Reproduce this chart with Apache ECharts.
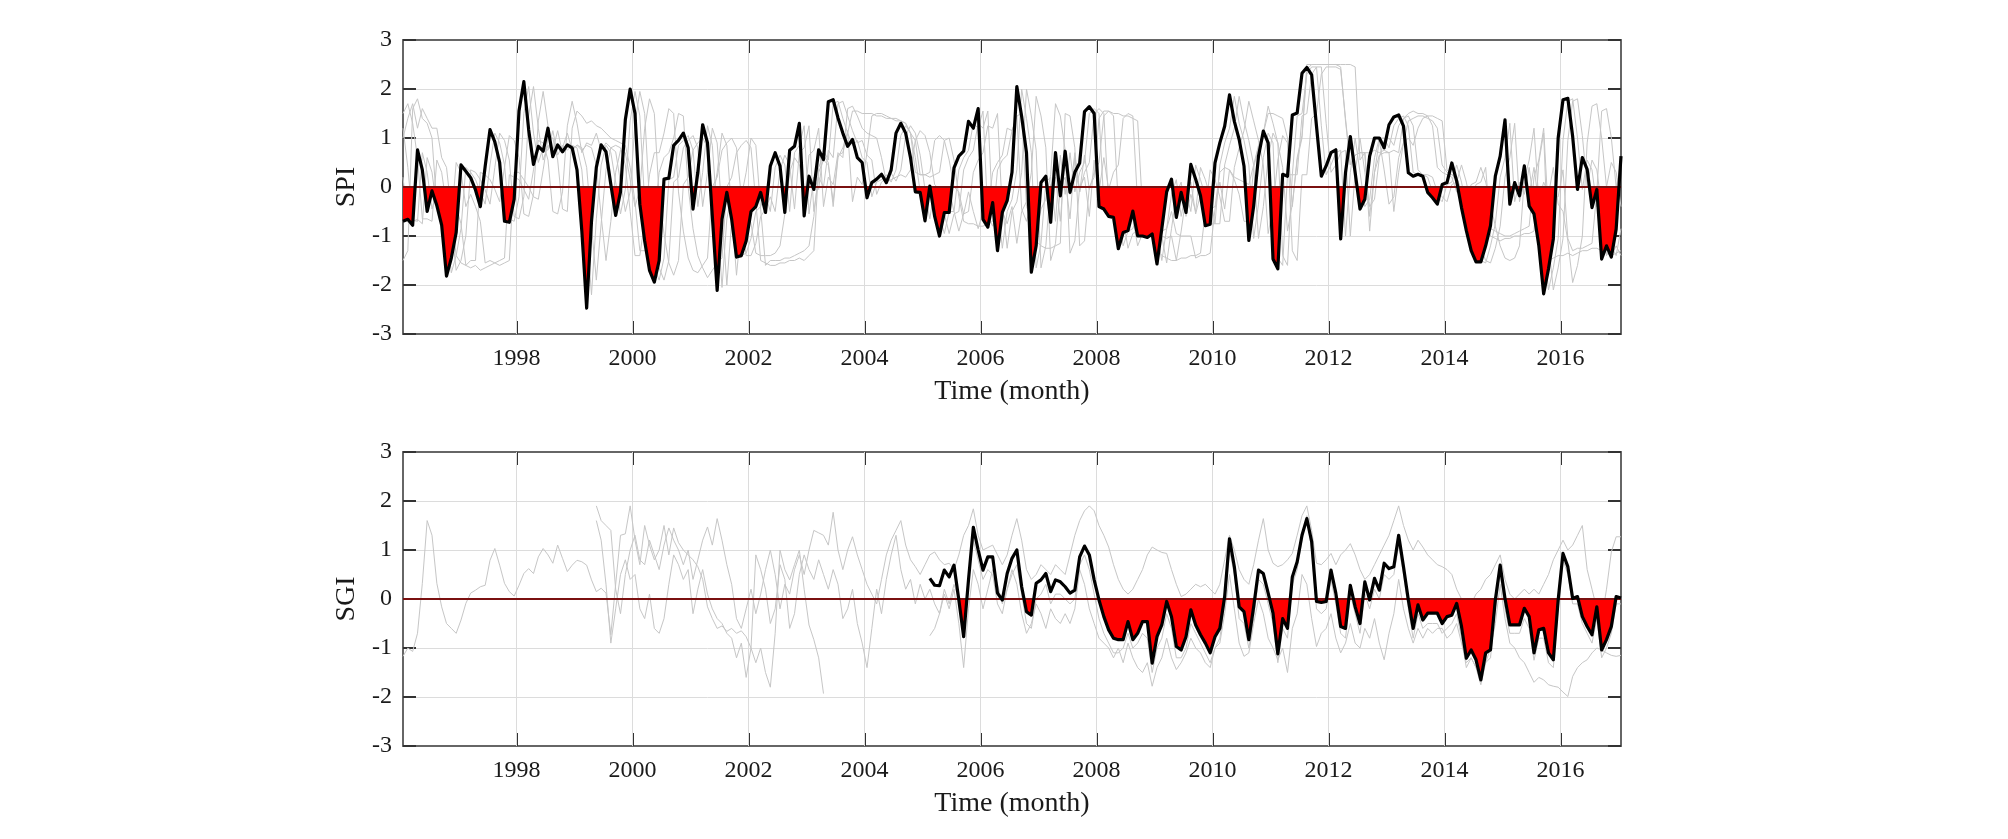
<!DOCTYPE html>
<html>
<head>
<meta charset="utf-8">
<script src="https://cdn.jsdelivr.net/npm/echarts@6/dist/echarts.min.js"></script>
<style>html,body{margin:0;padding:0;background:#fff}#c{width:2008px;height:839px}</style>
</head>
<body>
<div id="c"></div>
<script>
// ---------- data (monthly, first month = Jan 1996) ----------
const startYear = 1996;
const yearTicks = [1998, 2000, 2002, 2004, 2006, 2008, 2010, 2012, 2014, 2016];
const yTickLabels = ['-3', '-2', '-1', '0', '1', '2', '3'];

// SPI (black), Jan 1996 .. Jan 2017
const spiStart = 0;
const spi = [
-0.70,-0.66,-0.78,0.76,0.35,-0.50,-0.08,-0.38,-0.78,-1.82,-1.45,-0.93,
0.45,0.32,0.19,-0.06,-0.40,0.42,1.17,0.92,0.50,-0.70,-0.72,-0.25,
1.55,2.15,1.17,0.46,0.83,0.73,1.20,0.62,0.86,0.72,0.86,0.80,
0.35,-0.90,-2.47,-0.70,0.40,0.86,0.72,0.05,-0.58,-0.10,1.37,2.00,
1.50,-0.35,-1.10,-1.70,-1.94,-1.50,0.16,0.18,0.85,0.95,1.10,0.80,
-0.45,0.30,1.27,0.90,-0.60,-2.11,-0.66,-0.11,-0.66,-1.43,-1.40,-1.10,
-0.50,-0.40,-0.11,-0.52,0.43,0.70,0.43,-0.52,0.75,0.83,1.30,-0.59,
0.22,-0.05,0.76,0.56,1.74,1.78,1.41,1.10,0.83,0.97,0.60,0.50,
-0.22,0.09,0.16,0.26,0.09,0.35,1.10,1.30,1.10,0.60,-0.10,-0.11,
-0.69,0.02,-0.60,-1.00,-0.52,-0.52,0.39,0.63,0.73,1.34,1.20,1.60,
-0.66,-0.82,-0.32,-1.30,-0.52,-0.28,0.30,2.05,1.44,0.70,-1.74,-1.20,
0.09,0.22,-0.72,0.70,-0.18,0.73,-0.11,0.30,0.49,1.54,1.64,1.50,
-0.40,-0.45,-0.60,-0.62,-1.26,-0.93,-0.89,-0.49,-1.00,-1.00,-1.03,-0.96,
-1.57,-0.85,-0.10,0.16,-0.62,-0.11,-0.52,0.46,0.16,-0.18,-0.79,-0.76,
0.49,0.90,1.24,1.88,1.34,0.97,0.43,-1.09,-0.39,0.63,1.14,0.90,
-1.47,-1.67,0.26,0.22,1.47,1.51,2.32,2.44,2.29,1.24,0.22,0.43,
0.70,0.76,-1.06,0.29,1.03,0.29,-0.45,-0.25,0.63,1.00,1.00,0.80,
1.27,1.43,1.47,1.24,0.29,0.22,0.26,0.22,-0.11,-0.22,-0.35,0.05,
0.09,0.49,0.12,-0.42,-0.89,-1.30,-1.53,-1.53,-1.20,-0.79,0.22,0.63,
1.37,-0.35,0.09,-0.18,0.43,-0.39,-0.55,-1.20,-2.18,-1.67,-1.06,1.00,
1.78,1.81,1.03,-0.05,0.60,0.36,-0.42,-0.05,-1.47,-1.20,-1.43,-0.86,
0.63];

// SPI grey lines (other SPI series), Jan 1996 .. Jan 2017
const spiGray1 = [
1.20,0.40,-0.70,-0.66,-0.75,0.60,0.30,-0.45,-0.10,-0.38,-0.78,-1.70,
-1.50,-1.00,0.35,0.30,0.15,-0.06,-0.35,0.40,1.10,0.95,0.55,-0.60,
-0.65,-0.20,1.45,2.05,1.20,0.55,0.85,0.75,1.15,0.70,0.86,0.75,
0.86,0.80,0.40,-0.80,-1.90,-0.75,0.35,0.80,0.72,0.10,-0.50,-0.10,
1.30,1.95,1.50,-0.30,-1.05,-1.65,-1.90,-1.50,0.10,0.20,0.80,0.95,
1.05,0.80,-0.40,0.30,1.20,0.90,-0.55,-2.00,-0.70,-0.20,-0.70,-1.40,
-1.40,-1.15,-0.60,-0.45,-0.20,-0.50,0.35,0.65,0.45,-0.45,0.70,0.80,
1.25,-0.50,0.20,0.00,0.75,0.60,1.70,1.75,1.45,1.15,0.90,0.95,
0.65,0.55,-0.15,0.10,0.18,0.28,0.12,0.35,1.05,1.25,1.10,0.65,
-0.05,-0.10,-0.65,0.00,-0.55,-0.95,-0.55,-0.50,0.35,0.60,0.75,1.30,
1.20,1.55,-0.60,-0.80,-0.35,-1.25,-0.50,-0.30,0.30,2.00,1.45,0.75,
-1.65,-1.20,0.05,0.20,-0.70,0.65,-0.15,0.70,-0.10,0.30,0.50,1.50,
1.60,1.50,-0.35,-0.45,-0.60,-0.65,-1.25,-0.95,-0.90,-0.55,-1.00,-1.00,
-1.05,-1.00,-1.55,-0.85,-0.15,0.10,-0.60,-0.15,-0.50,0.40,0.15,-0.20,
-0.75,-0.75,0.45,0.85,1.20,1.85,1.35,0.95,0.45,-1.05,-0.40,0.60,
1.10,0.90,-1.40,-1.60,0.25,0.25,1.45,1.50,2.30,2.45,2.45,1.30,
0.30,0.45,0.70,0.75,-1.00,0.30,1.00,0.30,-0.40,-0.25,0.60,0.95,
1.00,0.85,1.25,1.40,1.45,1.25,0.35,0.25,0.25,0.20,-0.10,-0.20,
-0.30,0.05,0.10,0.45,0.10,-0.40,-0.85,-1.25,-1.50,-1.55,-1.25,-0.80,
0.20,0.60,1.30,-0.30,0.10,-0.15,0.40,-0.35,-0.55,-1.15,-2.10,-1.65,
-1.05,0.95,1.75,1.80,1.05,0.00,0.55,0.35,-0.40,-0.10,-1.40,-1.20,
-1.40];
const spiGray2 = [
1.50,1.70,1.30,0.60,-0.65,-0.65,-0.70,0.55,0.30,-0.40,-0.15,-0.40,
-0.75,-1.60,-1.50,-1.50,0.30,0.25,0.15,-0.05,-0.30,0.40,1.05,0.95,
0.60,-0.55,-0.60,-0.15,1.35,1.95,1.25,0.65,0.85,0.80,1.10,0.75,
0.85,0.75,0.85,0.80,0.45,-0.60,-1.50,-0.70,0.30,0.75,0.70,0.15,
-0.40,-0.05,1.20,1.80,1.50,-0.20,-0.95,-1.55,-1.80,-1.50,0.05,0.20,
0.75,0.90,1.00,0.80,-0.30,0.30,1.10,0.85,-0.50,-1.80,-0.75,-0.30,
-0.75,-1.35,-1.40,-1.40,-1.40,-1.35,-1.20,-0.55,0.30,0.60,0.45,-0.35,
0.65,0.75,1.20,-0.40,0.20,0.05,0.70,0.60,1.60,1.65,1.45,1.20,
1.10,1.05,1.00,0.60,0.10,0.15,0.20,0.25,0.20,0.35,0.95,1.15,
1.05,0.70,0.05,-0.05,-0.60,-0.05,-0.50,-0.90,-0.55,-0.50,0.30,0.55,
0.70,1.25,1.20,1.50,-0.50,-0.75,-0.40,-1.15,-0.50,-0.30,0.30,1.85,
1.45,0.80,-1.50,-1.15,0.00,0.20,-0.65,0.60,-0.10,0.65,-0.05,0.30,
0.50,1.45,1.55,1.45,-0.35,-0.50,-0.60,-0.65,-1.20,-0.95,-0.90,-0.60,
-1.00,-1.00,-1.05,-1.00,-1.50,-0.90,-0.20,0.10,-0.55,-0.15,-0.50,0.35,
0.15,-0.20,-0.70,-0.70,0.40,0.80,1.15,1.75,1.35,0.95,0.45,-0.95,
-0.40,0.55,1.05,0.90,-1.30,-1.50,0.25,0.25,1.40,1.50,2.30,2.45,
2.45,2.45,2.40,1.40,0.45,0.65,0.70,0.70,-0.90,0.30,0.95,0.35,
-0.35,-0.20,0.60,0.90,1.00,0.85,1.20,1.40,1.45,1.25,0.40,0.30,
0.25,0.20,-0.10,-0.20,-0.30,0.05,0.10,0.40,0.10,-0.35,-0.80,-1.20,
-1.45,-1.50,-1.45,-1.20,0.15,0.55,1.20,-0.30,0.10,-0.15,0.40,-0.35,
-0.50,-1.10,-1.95,-1.60,-1.00,0.90,1.65,1.70,1.00,0.00,0.50,0.30,
-0.40];
const spiGray3 = [
-1.50,-1.30,1.60,1.80,1.40,1.30,1.00,-0.40,-0.60,-0.65,-0.70,0.50,
0.30,-0.40,-0.15,-0.40,-0.70,-1.55,-1.50,-1.55,-1.50,-1.45,0.25,0.20,
0.15,-0.05,-0.25,0.35,0.95,0.90,0.55,-0.50,-0.55,-0.10,1.25,1.75,
1.30,0.70,0.90,0.85,1.10,0.75,0.90,0.80,0.85,0.80,0.45,-0.50,
-1.40,-1.40,-0.70,0.25,0.70,0.70,1.10,1.60,1.50,-0.10,-0.90,-1.45,
-1.70,-1.75,-1.60,-1.45,0.00,0.20,0.75,0.90,1.00,0.80,-0.20,0.30,
1.00,0.85,-0.45,-1.60,-1.50,-1.50,-1.50,-1.45,-1.45,-1.40,-1.35,-1.30,
-1.20,-0.60,0.30,0.55,0.45,-0.30,0.65,0.70,1.15,-0.30,0.20,0.05,
0.70,1.45,1.50,1.50,1.45,1.40,1.40,1.35,1.30,1.10,0.30,0.25,
0.25,0.30,0.95,1.05,0.95,0.55,0.00,-0.10,-0.55,-0.10,-0.50,-0.85,
-0.50,-0.45,0.30,0.50,0.65,1.20,1.15,1.45,-0.45,-0.70,-0.35,-1.05,
-0.45,-0.25,0.25,1.70,1.45,0.75,-1.35,-1.10,0.00,0.20,-0.60,0.55,
-0.10,0.60,-0.05,0.30,0.45,1.40,1.50,1.45,-0.35,-0.45,-0.55,-0.60,
-1.15,-0.90,-0.85,-0.50,-0.95,-1.00,-1.00,-1.00,-1.45,-1.40,-1.40,-1.35,
-0.45,0.10,-0.45,0.35,0.15,-0.15,-0.70,-0.70,0.40,0.80,1.10,1.65,
1.30,0.90,0.40,-0.90,-0.35,0.55,1.00,2.40,2.50,2.50,2.50,2.50,
2.50,2.50,2.45,1.35,0.45,0.65,0.70,0.70,-0.60,0.30,0.65,0.70,
0.70,-0.50,0.30,0.90,1.35,1.40,1.45,1.45,1.40,1.35,1.20,0.45,
0.30,0.25,0.20,-0.10,-0.20,-0.30,0.05,0.10,0.40,-0.85,-0.90,-0.95,
-1.00,-1.00,-0.95,-0.90,-0.85,-0.80,0.20,0.55,1.20,-0.60,-0.20,-0.20,
0.35,-1.05,-1.30,-1.25,-1.25,-1.20,-1.15,-0.10,1.55,1.60,1.00,0.00,
0.50];
const spiGray4 = [
1.00,1.40,1.70,1.20,1.60,1.40,1.20,1.20,0.60,0.40,-0.50,-1.40,
-1.55,-1.60,-1.65,-1.60,-1.70,-1.65,-1.60,-1.55,-1.60,-1.55,-1.50,0.30,
0.30,0.15,0.00,-0.20,-0.25,0.35,1.00,1.00,0.55,-0.45,-0.50,1.20,
1.55,1.45,1.30,1.35,1.25,1.20,1.10,1.00,0.95,0.90,0.85,0.40,
-0.30,-1.30,-1.30,-1.20,-0.60,0.30,0.60,0.70,1.00,1.50,1.45,0.00,
-0.85,-1.40,-1.65,-1.85,-1.70,-1.55,-1.45,0.00,0.20,0.70,0.85,0.95,
0.80,-0.30,-1.50,-1.55,-1.60,-1.60,-1.55,-1.55,-1.50,-1.50,-1.45,-1.50,
-1.40,-1.30,0.40,0.65,0.50,-0.40,0.60,0.80,1.10,1.55,1.55,1.50,
1.50,1.50,1.45,1.45,1.40,1.40,1.35,1.35,1.30,1.10,0.95,0.25,
0.25,0.20,0.25,0.30,0.95,1.00,0.55,-0.20,-0.70,-0.75,-0.75,-0.80,
-0.80,-0.75,-0.70,0.35,0.55,0.65,1.15,1.45,1.50,-0.40,-0.65,-1.10,
-1.20,-1.25,-1.25,-1.20,-1.15,1.50,1.45,0.80,-1.20,-1.10,0.00,0.20,
1.40,1.55,1.55,1.50,1.50,1.45,1.45,1.40,1.35,-0.45,-0.55,-0.60,
-1.25,-1.40,-1.45,-1.50,-1.50,-1.45,-1.45,-1.40,-1.40,-1.35,-0.50,-0.45,
-0.40,0.30,0.40,0.35,0.20,0.15,0.10,0.05,0.45,0.85,1.10,1.50,
1.50,1.45,1.40,1.00,-0.40,0.60,1.05,2.50,2.50,2.50,2.50,2.50,
2.50,2.50,2.50,2.50,2.50,2.45,0.55,0.70,0.70,0.75,0.70,0.75,
0.70,0.75,0.70,1.40,1.50,1.55,1.50,1.50,1.45,1.45,1.40,1.35,
0.35,0.25,0.20,-0.10,-0.25,-0.30,-0.35,-0.30,-0.25,-1.00,-1.05,-1.10,
-1.05,-1.05,-1.00,-1.00,-0.95,-0.95,-0.90,0.50,1.10,-1.50,-1.45,-1.40,
-1.40,-1.35,-1.40,-1.35,-1.30,-1.30,-1.25,-1.25,-1.30,-1.35,-1.40,-1.35,
-1.30];
const spiGray5 = [
0.20,-0.72,-0.68,-0.70,0.70,0.30,-0.45,-0.10,-0.42,-0.85,-1.75,-1.40,
-0.85,0.40,0.30,0.15,-0.10,-0.35,0.45,1.10,0.90,0.45,-0.65,-0.70,
-0.20,1.50,2.05,1.10,0.50,0.80,0.75,1.15,0.65,0.85,0.75,0.85,
0.80,0.35,-0.85,-2.20,-0.65,0.45,0.85,0.70,0.10,-0.55,-0.05,1.35,
1.95,1.45,-0.30,-1.05,-1.65,-1.90,-1.45,0.15,0.20,0.85,0.95,1.05,
0.75,-0.40,0.30,1.25,0.85,-0.55,-2.05,-0.65,-0.15,-0.65,-1.40,-1.35,
-1.05,-0.50,-0.40,-0.15,-0.50,0.40,0.65,0.45,-0.50,0.70,0.85,1.25,
-0.55,0.20,-0.05,0.75,0.55,1.70,1.75,1.40,1.10,0.85,0.95,0.60,
0.50,-0.20,0.10,0.15,0.25,0.10,0.35,1.05,1.25,1.10,0.60,-0.10,
-0.15,-0.65,0.00,-0.60,-0.95,-0.50,-0.50,0.35,0.60,0.75,1.30,1.20,
1.55,-0.60,-0.80,-0.35,-1.25,-0.50,-0.25,0.35,2.00,1.40,0.70,-1.65,
-1.15,0.10,0.20,-0.70,0.65,-0.15,0.70,-0.10,0.30,0.50,1.50,1.60,
1.50,-0.35,-0.45,-0.60,-0.60,-1.20,-0.90,-0.85,-0.50,-0.95,-1.00,-1.00,
-0.95,-1.50,-0.85,-0.15,0.15,-0.60,-0.10,-0.50,0.45,0.15,-0.20,-0.75,
-0.75,0.45,0.90,1.20,1.85,1.30,0.95,0.45,-1.05,-0.35,0.60,1.10,
0.90,-1.45,-1.60,0.25,0.25,1.45,1.50,2.30,2.45,2.45,1.25,0.25,
0.45,0.70,0.75,-1.00,0.30,1.00,0.30,-0.40,-0.25,0.60,1.00,1.00,
0.80,1.25,1.40,1.45,1.25,0.30,0.25,0.25,0.20,-0.10,-0.20,-0.30,
0.05,0.10,0.45,0.10,-0.40,-0.85,-1.25,-1.50,-1.55,-1.20,-0.75,0.20,
0.60,1.30,-0.30,0.10,-0.15,0.40,-0.35,-0.55,-1.15,-2.10,-1.65,-1.05,
0.95,1.75,1.80,1.00,-0.05,0.55,0.35,-0.40,-0.05,-1.40,-1.20,-1.40,
-0.85];

// SGI (black), Feb 2005 .. Jan 2017
const sgiStart = 109;
const sgi = [
0.42,0.28,0.27,0.59,0.45,0.69,-0.02,-0.77,0.39,1.46,1.00,
0.59,0.86,0.86,0.12,-0.02,0.52,0.83,1.00,0.25,-0.26,-0.33,0.32,
0.39,0.52,0.15,0.39,0.35,0.25,0.12,0.18,0.86,1.08,0.90,0.39,
-0.02,-0.36,-0.63,-0.80,-0.83,-0.83,-0.46,-0.83,-0.70,-0.46,-0.46,-1.31,
-0.77,-0.53,-0.05,-0.36,-0.97,-1.04,-0.77,-0.22,-0.53,-0.73,-0.90,-1.10,
-0.77,-0.60,0.05,1.23,0.66,-0.16,-0.26,-0.83,-0.16,0.59,0.52,0.12,
-0.29,-1.12,-0.40,-0.60,0.45,0.76,1.30,1.64,1.17,-0.05,-0.07,-0.05,
0.59,0.12,-0.56,-0.60,0.28,-0.16,-0.50,0.35,-0.02,0.42,0.18,0.73,
0.62,0.66,1.30,0.66,-0.02,-0.60,-0.12,-0.43,-0.29,-0.29,-0.29,-0.50,
-0.36,-0.33,-0.09,-0.56,-1.21,-1.04,-1.24,-1.65,-1.10,-1.04,-0.02,0.69,
0.01,-0.53,-0.53,-0.53,-0.19,-0.36,-1.10,-0.63,-0.60,-1.10,-1.24,-0.02,
0.93,0.66,0.01,0.05,-0.36,-0.56,-0.73,-0.16,-1.04,-0.83,-0.56,0.05,
0.02];

// SGI grey lines (other wells)
const sgiGrayAStart = 0;
const sgiGrayA = [
-1.17,-1.00,-1.07,-0.70,0.32,1.60,1.30,0.32,-0.16,-0.50,-0.60,-0.70,
-0.43,-0.09,0.12,0.18,0.25,0.28,0.79,1.03,0.69,0.32,0.15,0.06,
0.28,0.52,0.62,0.52,0.86,1.03,0.90,0.73,1.10,0.83,0.56,0.69,
0.79,0.76,0.69,0.39,0.15,0.22,0.12,-0.73,0.30,1.30,1.33,1.90,
1.20,0.70,1.50,1.10,0.80,1.00,1.50,0.90,1.45,1.15,1.00,0.90,
0.80,0.66,0.40,-0.16,-0.40,-0.60,-0.55,-0.66,-0.60,-0.70,-0.65,-0.77,
-1.00,-1.30,-1.00,-1.50,-1.80,-0.70,1.00,0.60,0.39,0.70,1.00,0.20,
-0.53,-0.83,-1.20,-1.93];
const sgiGrayBStart = 40;
const sgiGrayB = [
1.90,1.60,1.50,1.40,0.20,-0.30,0.50,1.00,
1.30,0.80,0.70,1.20,0.90,0.60,1.10,1.45,1.20,1.00,0.70,1.00,
0.40,0.80,1.20,1.47,1.10,1.64,1.20,0.70,0.30,-0.40,-0.60,-0.20,
0.20,-0.30,0.10,0.60,1.00,0.50,-0.20,0.30,0.10,0.60,0.90,0.50,
1.00,1.40,1.35,1.30,1.10,1.77,1.00,0.60,1.00,1.27,0.90,0.60,
0.30,0.10,-0.10,0.40,0.90,1.20,1.40,1.60,1.10,0.80,0.66,0.50,
0.70,0.90,0.96,0.80,0.70,0.73,0.60,0.90,1.30,1.50,1.84,1.30,
1.00,1.05,1.10,0.90,0.70,0.90,1.30,1.64,1.20,0.60,0.40,0.50,
0.70,0.60,0.50,0.70,0.60,0.50,0.90,1.30,1.60,1.80,1.90,1.80,
1.50,1.30,1.06,0.70,0.40,0.20,0.10,0.20,0.40,0.60,0.90,1.06,
1.00,0.95,0.93,0.60,0.30,0.05,0.10,0.20,0.30,0.25,0.30,0.20,
0.10,0.30,0.80,1.30,1.00,0.60,0.40,0.30,0.70,1.20,1.64,1.00,
0.73,0.66,0.70,0.80,0.93,1.30,1.70,1.90,1.40,0.73,0.70,0.80,
0.93,0.70,0.90,1.00,1.13,0.90,0.60,0.40,0.50,0.70,0.90,1.10,
1.30,1.60,1.90,1.50,1.20,1.00,1.20,1.06,0.90,0.80,0.70,0.66,
0.60,0.50,0.20,0.00,-0.20,-0.10,0.10,0.20,0.40,0.50,0.70,0.90,
0.40,0.10,0.00,0.10,0.20,0.10,0.20,0.10,0.30,0.50,0.80,1.00,
1.20,1.00,1.10,1.30,1.50,0.60,0.20,-0.20,-0.40,0.20,0.96,1.27,
1.27];
const sgiGrayCStart = 40;
const sgiGrayC = [
1.60,1.20,0.30,-0.90,-0.20,0.50,0.80,0.40,
0.50,-0.20,-0.40,0.10,-0.60,-0.70,-0.40,0.30,0.90,0.70,0.40,0.60,
-0.30,0.20,0.60,0.10,-0.20,-0.40,-0.50,-0.70,-0.80,-1.20,-0.90,-1.60,
-1.00,0.90,0.60,0.20,-0.50,-0.20,0.70,0.40,-0.60,-0.30,0.50,0.90,
0.60,0.40,0.80,0.50,0.20,0.60,0.30,-0.40,-0.20,0.20,-0.50,-0.90,
-1.40,-0.60,0.20,-0.30,0.40,0.90,1.30,0.60,0.20,0.40,-0.10,0.30,
0.00,0.20,-0.10,-0.30,0.10,-0.20,0.20,-0.50,-1.40,-0.20,0.60,0.30,
-0.20,0.20,0.60,0.30,-0.10,0.20,0.60,0.30,-0.30,-0.70,-0.50,-0.10,
-0.30,-0.60,-0.20,-0.40,-0.50,-0.30,-0.50,-0.20,0.60,0.30,-0.20,-0.50,
-0.80,-0.90,-1.00,-1.20,-1.00,-1.30,-0.90,-1.20,-1.40,-1.50,-1.30,-1.78,
-1.40,-1.20,-0.80,-1.20,-1.44,-1.30,-1.10,-0.80,-1.00,-1.10,-1.30,-1.40,
-1.00,-0.90,-0.30,0.50,-0.20,-0.90,-1.17,-1.10,-0.50,0.00,-0.30,-0.80,
-1.00,-1.24,-1.00,-1.50,-0.60,-0.30,0.50,0.30,-0.40,-0.97,-0.70,-0.60,
-0.30,-0.80,-1.10,-0.90,-0.50,-0.90,-1.00,-0.60,-0.80,-0.40,-0.90,-1.24,
-0.70,-0.30,0.40,-0.20,-0.60,-0.90,-0.60,-0.80,-0.60,-0.70,-0.60,-0.60,
-0.80,-0.70,-0.50,-0.90,-1.30,-1.20,-1.40,-1.50,-1.30,-1.00,-0.50,0.30,
-0.40,-0.90,-1.00,-1.20,-1.30,-1.50,-1.70,-1.60,-1.65,-1.75,-1.78,-1.80,
-1.90,-1.99,-1.58,-1.40,-1.30,-1.24,-1.10,-1.00,-1.04,-1.10,-1.15,-1.17,
-1.15];
const sgiGrayDStart = 109;
const sgiGrayD = [
-0.75,-0.60,-0.30,0.20,-0.10,0.30,0.00,-0.60,0.50,1.20,0.80,
0.40,0.60,0.50,-0.10,-0.30,0.20,0.50,0.70,0.10,-0.50,-0.60,0.00,
0.10,0.30,-0.10,0.10,0.10,0.00,-0.10,0.00,0.70,0.90,0.60,0.10,
-0.40,-0.70,-0.90,-1.10,-1.10,-1.00,-0.70,-1.00,-0.90,-0.70,-0.80,-1.50,
-1.00,-0.80,-0.30,-0.60,-1.20,-1.20,-1.00,-0.50,-0.70,-0.90,-1.10,-1.30,
-1.00,-0.80,-0.10,1.00,0.50,-0.40,-0.50,-1.00,-0.40,0.40,0.30,-0.10,
-0.50,-1.30,-0.60,-0.80,0.30,0.60,1.20,1.70,1.00,-0.20,-0.30,-0.20,
0.40,-0.10,-0.70,-0.80,0.10,-0.30,-0.70,0.10,-0.20,0.20,0.00,0.50,
0.40,0.50,1.10,0.50,-0.20,-0.80,-0.30,-0.60,-0.50,-0.50,-0.50,-0.70,
-0.60,-0.50,-0.30,-0.80,-1.40,-1.20,-1.40,-1.75,-1.30,-1.20,-0.20,0.50,
-0.20,-0.70,-0.70,-0.70,-0.40,-0.60,-1.25,-0.80,-0.80,-1.30,-1.40,-0.20,
0.80,0.50,-0.10,-0.10,-0.50,-0.70,-0.90,-0.40,-1.20,-1.00,-0.70,-0.10,
-0.10];

// ---------- chart ----------
const FONT = "'Liberation Serif', 'Times New Roman', serif";
const monthX = i => startYear + (i + 0.5) / 12;
const xMin = monthX(0), xMax = monthX(252);
const pts = (vals, start) => vals.map((v, k) => [monthX(start + k), v]);

const AXIS_COL = '#666', TICK_COL = '#333', GRID_COL = '#dcdcdc', TXT = '#1a1a1a';

function xAxes(gridIndex) {
  return [{
    type: 'value', gridIndex, position: 'bottom', min: xMin, max: xMax,
    axisLine: { show: true, onZero: false, lineStyle: { color: AXIS_COL, width: 2 } },
    axisTick: { show: true, inside: true, length: 13, customValues: yearTicks, lineStyle: { color: TICK_COL, width: 2 } },
    axisLabel: { show: true, customValues: yearTicks, formatter: v => String(Math.round(v)),
      fontFamily: FONT, fontSize: 24, color: TXT, margin: 13 },
    splitLine: { show: false },
    name: 'Time (month)', nameLocation: 'middle', nameGap: 44,
    nameTextStyle: { fontFamily: FONT, fontSize: 28, color: TXT }
  }, {
    type: 'value', gridIndex, position: 'top', min: xMin, max: xMax,
    axisLine: { show: true, onZero: false, lineStyle: { color: AXIS_COL, width: 2 } },
    axisTick: { show: true, inside: true, length: 13, customValues: yearTicks, lineStyle: { color: TICK_COL, width: 2 } },
    axisLabel: { show: false }, splitLine: { show: false }
  }];
}
function yAxes(gridIndex, name) {
  return [{
    type: 'value', gridIndex, position: 'left', min: -3, max: 3, interval: 1,
    axisLine: { show: true, onZero: false, lineStyle: { color: AXIS_COL, width: 2 } },
    axisTick: { show: true, inside: true, length: 13, lineStyle: { color: TICK_COL, width: 2 } },
    axisLabel: { fontFamily: FONT, fontSize: 24, color: TXT, margin: 11,
      formatter: v => yTickLabels[Math.round(v) + 3] },
    splitLine: { show: true, lineStyle: { color: GRID_COL, width: 1 } },
    name, nameLocation: 'middle', nameGap: 40, nameRotate: 90,
    nameTextStyle: { fontFamily: FONT, fontSize: 28, color: TXT }
  }, {
    type: 'value', gridIndex, position: 'right', min: -3, max: 3, interval: 1,
    axisLine: { show: true, onZero: false, lineStyle: { color: AXIS_COL, width: 2 } },
    axisTick: { show: true, inside: true, length: 13, lineStyle: { color: TICK_COL, width: 2 } },
    axisLabel: { show: false }, splitLine: { show: false }
  }];
}

const series = [];
const visualMaps = [];
function panel(gridPos, black, blackStart, grays) {
  const xi = gridPos * 2, yi = gridPos * 2;
  grays.forEach(([vals, start], k) => {
    const s = {
      type: 'line', xAxisIndex: xi, yAxisIndex: yi, data: pts(vals, start),
      showSymbol: false, silent: true, z: 2,
      lineStyle: { color: '#c6c6c6', width: 1 }
    };
    if (k === 0) {
      s.markLine = {
        silent: true, symbol: ['none', 'none'], z: 1, animation: false,
        label: { show: false },
        lineStyle: { color: GRID_COL, width: 1, type: 'solid' },
        data: yearTicks.map(y => ({ xAxis: y }))
      };
    }
    series.push(s);
  });
  const fillIdx = series.length;
  series.push({
    type: 'line', xAxisIndex: xi, yAxisIndex: yi, data: pts(black, blackStart),
    showSymbol: false, silent: true, z: 3,
    lineStyle: { width: 0 }, areaStyle: { opacity: 1 },
    markLine: {
      silent: true, symbol: ['none', 'none'], z: 5, animation: false,
      label: { show: false },
      lineStyle: { color: '#7a1010', width: 2, type: 'solid' },
      data: [{ yAxis: 0 }]
    }
  });
  visualMaps.push({
    type: 'piecewise', show: false, seriesIndex: fillIdx, dimension: 1,
    pieces: [{ gte: -10, lt: 0, color: '#ff0000' }, { gte: 0, lte: 10, color: 'rgba(255,0,0,0)' }]
  });
  series.push({
    type: 'line', xAxisIndex: xi, yAxisIndex: yi, data: pts(black, blackStart),
    showSymbol: false, silent: true, z: 6,
    lineStyle: { color: '#000', width: 3.2, join: 'round' }
  });
}
panel(0, spi, spiStart, [[spiGray1, 0], [spiGray2, 0], [spiGray3, 0], [spiGray4, 0], [spiGray5, 0]]);
panel(1, sgi, sgiStart, [[sgiGrayA, sgiGrayAStart], [sgiGrayB, sgiGrayBStart], [sgiGrayC, sgiGrayCStart], [sgiGrayD, sgiGrayDStart]]);

const chart = echarts.init(document.getElementById('c'), null, { renderer: 'canvas' });
chart.setOption({
  animation: false,
  backgroundColor: '#fff',
  grid: [
    { left: 403, right: 387, top: 40, height: 294 },
    { left: 403, right: 387, top: 452, height: 294 }
  ],
  xAxis: [...xAxes(0), ...xAxes(1)],
  yAxis: [...yAxes(0, 'SPI'), ...yAxes(1, 'SGI')],
  visualMap: visualMaps,
  series
});
</script>
</body>
</html>
